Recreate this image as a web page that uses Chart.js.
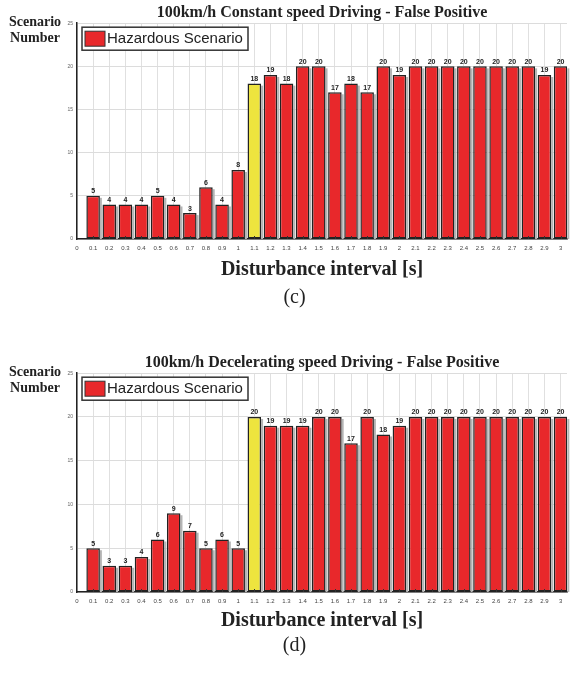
<!DOCTYPE html>
<html>
<head>
<meta charset="utf-8">
<script src="https://cdn.jsdelivr.net/npm/chart.js@4.4.1/dist/chart.umd.min.js"></script>
<style>
    body { margin: 0; background: #fff; }
    .page { position: relative; width: 573px; height: 678px; overflow: hidden; }
    canvas { position: absolute; left: 0; }
    .ylab { position: absolute; width: 70px; text-align: center; font: bold 14px "Liberation Serif", serif; line-height: 16px; color: #222; }
    .sub { position: absolute; width: 573px; left: 8px; text-align: center; font: 20px "Liberation Serif", serif; color: #222; }
</style>
</head>
<body>
<div class="page">
    <canvas id="chartC" width="573" height="290" style="top:0"></canvas>
    <div class="ylab" style="left:0; top:14px">Scenario<br>Number</div>
    <div class="sub" style="top:285px">(c)</div>

    <canvas id="chartD" width="573" height="290" style="top:350px"></canvas>
    <div class="ylab" style="left:0; top:364px">Scenario<br>Number</div>
    <div class="sub" style="top:633px">(d)</div>
</div>
<script>
// disturbance intervals [s]
const intervals = [0.1, 0.2, 0.3, 0.4, 0.5, 0.6, 0.7, 0.8, 0.9, 1.0,
    1.1, 1.2, 1.3, 1.4, 1.5, 1.6, 1.7, 1.8, 1.9, 2.0,
    2.1, 2.2, 2.3, 2.4, 2.5, 2.6, 2.7, 2.8, 2.9, 3.0];

// (c) constant speed
const constantSpeed = [5, 4, 4, 4, 5, 4, 3, 6, 4, 8,
    18, 19, 18, 20, 20, 17, 18, 17, 20, 19,
    20, 20, 20, 20, 20, 20, 20, 20, 19, 20];

// (d) decelerating speed
const deceleratingSpeed = [5, 3, 3, 4, 6, 9, 7, 5, 6, 5,
    20, 19, 19, 19, 20, 20, 17, 20, 18, 19,
    20, 20, 20, 20, 20, 20, 20, 20, 20, 20];

const xTickValues = [0, 0.1, 0.2, 0.3, 0.4, 0.5, 0.6, 0.7, 0.8, 0.9, 1,
    1.1, 1.2, 1.3, 1.4, 1.5, 1.6, 1.7, 1.8, 1.9, 2,
    2.1, 2.2, 2.3, 2.4, 2.5, 2.6, 2.7, 2.8, 2.9, 3];
const yTickValues = [0, 5, 10, 15, 20, 25];

const highlightInterval = 1.1;
const RED = '#e8282b';
const YELLOW = '#eee43e';

Chart.defaults.font.family = '"Liberation Sans", Arial, sans-serif';
Chart.defaults.color = '#444';

// grey shade on the right of each bar
const barShade = {
    id: 'barShade',
    beforeDatasetsDraw(chart) {
        const ctx = chart.ctx, bottom = chart.chartArea.bottom;
        ctx.save();
        ctx.fillStyle = '#b4b4b4';
        chart.getDatasetMeta(0).data.forEach(bar => {
            ctx.fillRect(bar.x + bar.width / 2, bar.y + 2, 2, bottom - bar.y - 2);
        });
        ctx.restore();
    }
};

// value over every bar
const barValues = {
    id: 'barValues',
    afterDatasetsDraw(chart) {
        const ctx = chart.ctx;
        ctx.save();
        ctx.font = 'bold 7px "Liberation Sans", sans-serif';
        ctx.fillStyle = '#222';
        ctx.textAlign = 'center';
        ctx.textBaseline = 'bottom';
        chart.getDatasetMeta(0).data.forEach((bar, i) => {
            ctx.fillText(chart.data.datasets[0].data[i].y, bar.x, bar.y - 1);
        });
        ctx.restore();
    }
};

// little inward ticks on the baseline
const innerTicks = {
    id: 'innerTicks',
    afterDatasetsDraw(chart) {
        const ctx = chart.ctx, x = chart.scales.x, bottom = chart.chartArea.bottom;
        ctx.save();
        ctx.strokeStyle = '#333';
        ctx.lineWidth = 1;
        x.ticks.forEach(t => {
            if (t.value === 0) return;
            const px = Math.round(x.getPixelForValue(t.value)) + 0.5;
            ctx.beginPath();
            ctx.moveTo(px, bottom);
            ctx.lineTo(px, bottom - 3);
            ctx.stroke();
        });
        ctx.restore();
    }
};

// boxed legend in the top-left corner of the plot
const boxLegend = {
    id: 'boxLegend',
    afterDraw(chart) {
        const ctx = chart.ctx, a = chart.chartArea;
        const l = a.left + 5, t = a.top + 4;
        ctx.save();
        ctx.fillStyle = '#fff';
        ctx.fillRect(l, t, 166, 23);
        ctx.strokeStyle = '#333';
        ctx.lineWidth = 1.5;
        ctx.strokeRect(l, t, 166, 23);
        ctx.fillStyle = RED;
        ctx.fillRect(l + 3, t + 4, 20, 15);
        ctx.lineWidth = 1;
        ctx.strokeRect(l + 3, t + 4, 20, 15);
        ctx.fillStyle = '#222';
        ctx.font = '15px "Liberation Sans", sans-serif';
        ctx.textBaseline = 'middle';
        ctx.fillText(chart.data.datasets[0].label, l + 25, t + 12);
        ctx.restore();
    }
};

function makeChart(id, title, values, xHeight, titlePad) {
    return new Chart(document.getElementById(id), {
        type: 'bar',
        data: {
            datasets: [{
                label: 'Hazardous Scenario',
                data: intervals.map((x, i) => ({ x: x, y: values[i] })),
                backgroundColor: c => (c.raw && c.raw.x === highlightInterval) ? YELLOW : RED,
                borderColor: '#222',
                borderWidth: 1.5,
                borderSkipped: false,
                barPercentage: 0.84,
                categoryPercentage: 1
            }]
        },
        options: {
            responsive: false,
            animation: false,
            layout: { padding: { left: 0, right: 6, top: 0, bottom: 0 } },
            plugins: {
                legend: { display: false },
                tooltip: { enabled: false },
                title: {
                    display: true,
                    fullSize: false,
                    text: title,
                    color: '#222',
                    font: { family: '"Liberation Serif", serif', size: 16, weight: 'bold' },
                    padding: { top: 3, bottom: 1 }
                }
            },
            scales: {
                x: {
                    type: 'linear',
                    min: 0,
                    max: 3.04,
                    offset: false,
                    afterBuildTicks: s => { s.ticks = xTickValues.map(v => ({ value: v })); },
                    afterFit: s => { s.height = xHeight; },
                    ticks: {
                        autoSkip: false,
                        maxRotation: 0,
                        padding: 6,
                        font: { size: 6 },
                        callback: v => String(v)
                    },
                    grid: { offset: false, color: '#e0e0e0', drawTicks: false },
                    border: { color: '#222', width: 1.5 },
                    title: {
                        display: true,
                        text: 'Disturbance interval [s]',
                        color: '#222',
                        font: { family: '"Liberation Serif", serif', size: 20, weight: 'bold' },
                        padding: { top: 0, bottom: titlePad }
                    }
                },
                y: {
                    min: 0,
                    max: 25,
                    afterBuildTicks: s => { s.ticks = yTickValues.map(v => ({ value: v })); },
                    afterFit: s => { s.width = 77; },
                    ticks: { padding: 4, font: { size: 5 }, color: '#666' },
                    grid: { color: '#dcdcdc', drawTicks: false },
                    border: { color: '#222', width: 1.5 }
                }
            }
        },
        plugins: [barShade, barValues, innerTicks, boxLegend]
    });
}

makeChart('chartC', '100km/h Constant speed Driving - False Positive', constantSpeed, 51, 8);
makeChart('chartD', '100km/h Decelerating speed Driving - False Positive', deceleratingSpeed, 48, 7);
</script>
</body>
</html>
